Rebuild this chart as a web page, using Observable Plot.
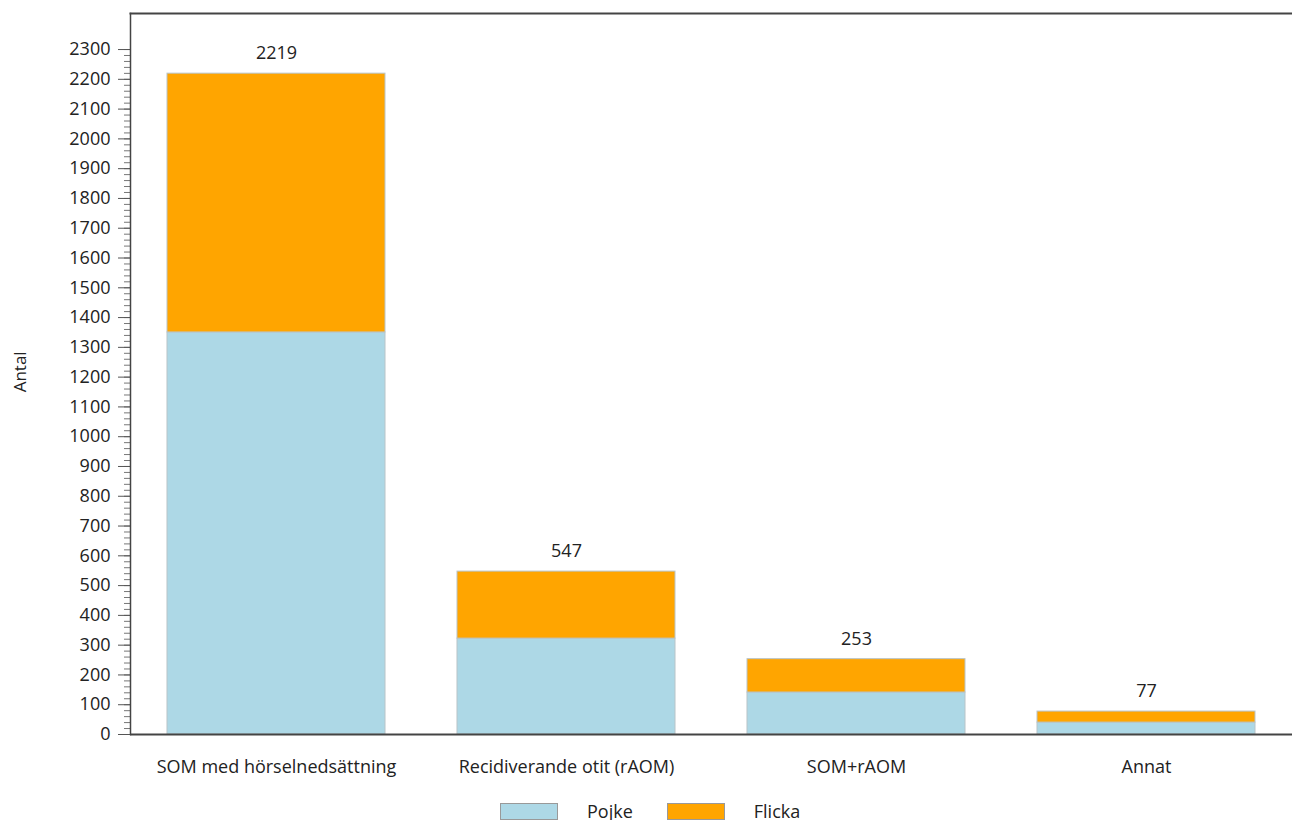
<!DOCTYPE html>
<html><head><meta charset="utf-8">
<script src="https://cdn.jsdelivr.net/npm/d3@7"></script>
<script src="https://cdn.jsdelivr.net/npm/@observablehq/plot@0.6"></script>
<style>
body{margin:0;background:#fff;font-family:"Open Sans",sans-serif;}
#chart svg{display:block;}
#legend{display:flex;align-items:center;padding-left:500px;margin-top:12px;font-size:18px;line-height:18px;color:#222;}
.item{display:flex;align-items:center;margin-right:34px;}
.sw{width:58px;height:17px;border:1px solid #999;margin-right:29px;box-sizing:border-box;}
</style></head><body>
<div id="chart"></div>
<div id="legend"></div>
<script>
const categories = ["SOM med hörselnedsättning","Recidiverande otit (rAOM)","SOM+rAOM","Annat"];
const series = ["Pojke","Flicka"];
const pojke = [1350, 322, 141, 40];
const flicka = [869, 225, 112, 37];
const totals = [2219, 547, 253, 77];
const colors = ["#ADD8E6","#FFA500"];
const yTicks = d3.range(0, 2301, 100);
const yMinor = d3.range(0, 2301, 20);

const data = [];
categories.forEach((c,i)=>{
  data.push({cat:c, sex:"Pojke", v:pojke[i]});
  data.push({cat:c, sex:"Flicka", v:flicka[i]});
});
const tot = categories.map((c,i)=>({cat:c, v:totals[i]}));

const chart = Plot.plot({
  width: 1292, height: 790,
  marginLeft: 130, marginRight: 0, marginTop: 13, marginBottom: 56,
  style: {fontFamily: "'Open Sans', sans-serif", fontSize: "18px", color: "#222"},
  x: {domain: categories, paddingInner: 0.25, paddingOuter: 0.125, label: null},
  y: {domain: [0, 2421], label: null},
  color: {domain: series, range: colors},
  marks: [
    Plot.barY(data, Plot.stackY({x:"cat", y:"v", fill:"sex", order: series, stroke:"#b8c4c8", strokeWidth:1})),
    Plot.text(tot, {x:"cat", y:"v", text: d=>String(d.v), dy:-20, fontSize:18, fill:"#222"}),
    Plot.axisY({ticks: yMinor, tickSize: 6, tickFormat: ()=>"", stroke:"#777"}),
    Plot.axisY({ticks: yTicks, tickSize: 12, tickPadding: 8, tickFormat: d=>String(d), stroke:"#555", fontSize: 18, fill:"#222"}),
    Plot.axisX({tickSize:0, tickPadding: 26, fontSize: 18, fill:"#222"}),
    Plot.ruleY([0], {stroke:"#444", strokeWidth:2}),
    Plot.frame({anchor:"top", stroke:"#444", strokeWidth:2}),
    Plot.frame({anchor:"left", stroke:"#444", strokeWidth:1.5}),
    Plot.text([1149], {y: d=>d, text: ()=>"Antal", frameAnchor:"left", dx:-110, rotate:-90, fontSize:17, fill:"#222"})
  ]
});
document.getElementById("chart").appendChild(chart);

const lg = document.getElementById("legend");
series.forEach((s,i)=>{
  const it = document.createElement("div"); it.className="item";
  const sw = document.createElement("div"); sw.className="sw"; sw.style.background=colors[i];
  const t = document.createElement("span"); t.textContent=s;
  it.appendChild(sw); it.appendChild(t); lg.appendChild(it);
});
</script></body></html>
